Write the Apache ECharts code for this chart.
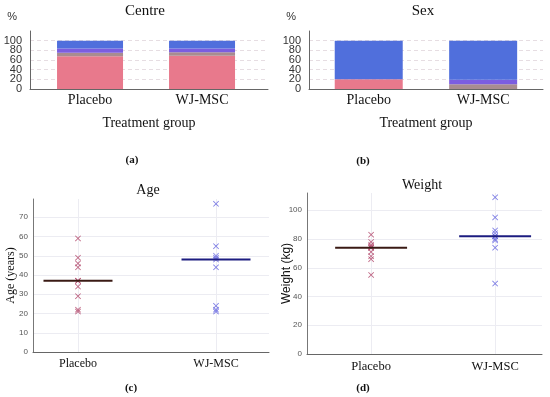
<!DOCTYPE html>
<html><head><meta charset="utf-8">
<script src="https://cdn.jsdelivr.net/npm/echarts@6/dist/echarts.min.js"></script>
<style>html,body{margin:0;padding:0;background:#fff}#c{width:550px;height:397px}</style>
</head><body><div id="c"></div><script>
// ---- data ----
const groups = ['Placebo', 'WJ-MSC'];
// Centre: stacked percentages (4 segments, bottom to top)
const centreSeg1 = [68, 69];
const centreSeg2 = [7, 7];
const centreSeg3 = [9, 8];
const centreSeg4 = [16, 16];
// Sex: stacked percentages
const sexSeg1 = [20, 0];
const sexSeg2 = [0, 10];
const sexSeg3 = [0, 9];
const sexSeg4 = [80, 81];
// Age (years)
const agePlacebo = [59, 49, 46, 44, 37, 37, 34, 29, 22, 21];
const ageWJ = [77, 55, 50, 49, 48, 44, 24, 22, 21];
// Weight (kg)
const weightPlacebo = [83, 78, 76, 75, 74, 74, 71, 68, 66, 55];
const weightWJ = [109, 95, 86, 84, 82, 82, 80, 79, 74, 49];

// ---- helpers ----
function median(a) {
  const s = a.slice().sort((x, y) => x - y);
  const n = s.length;
  return n % 2 ? s[(n - 1) / 2] : (s[n / 2 - 1] + s[n / 2]) / 2;
}
const pos = groups.map((g, i) => i + 1);
const segColors = ['#e8798c', '#a88c90', '#7b5de0', '#506fdc'];
const SERIF = 'Liberation Serif';
const SANS = 'Liberation Sans';
const CROSS = 'path://M0,1 L1,0 L5,4 L9,0 L10,1 L6,5 L10,9 L9,10 L5,6 L1,10 L0,9 L4,5 Z';

function barSeries(segs, idx, stack, bw) {
  return segs.map((seg, k) => ({
    type: 'bar', xAxisIndex: idx, yAxisIndex: idx, stack: stack, barWidth: bw,
    encode: { x: 1, y: 0 },
    data: pos.map((p, i) => [seg[i], p]),
    itemStyle: { color: segColors[k] }, silent: true
  }));
}
function scatterSeries(vals, p, idx, color) {
  return {
    type: 'scatter', xAxisIndex: idx, yAxisIndex: idx, symbol: CROSS, symbolSize: 6,
    data: vals.map(v => [p, v]), itemStyle: { color: color }, silent: true
  };
}
function medianSeries(vals, p, idx, hw, color) {
  const m = median(vals);
  return {
    type: 'line', xAxisIndex: idx, yAxisIndex: idx, symbol: 'none', silent: true,
    data: [[p - hw, m], [p + hw, m]], lineStyle: { color: color, width: 2 }, z: 3
  };
}
function catX(idx, min, max, fs, margin, name, nameGap) {
  return {
    gridIndex: idx, type: 'value', min: min, max: max,
    axisLine: { onZero: false, lineStyle: { color: '#666', width: 1 } },
    axisTick: { show: false, customValues: pos },
    axisLabel: { customValues: pos, formatter: v => groups[Math.round(v) - 1] || '',
      showMinLabel: true, showMaxLabel: true, hideOverlap: false,
      fontFamily: SERIF, fontSize: fs, color: '#111', margin: margin },
    splitLine: { show: name ? false : true, lineStyle: { color: '#ececf2', width: 1 } },
    name: name || '', nameLocation: 'middle', nameGap: nameGap || 0, nameMoveOverlap: false,
    nameTextStyle: { fontFamily: SERIF, fontSize: 14, color: '#111' }
  };
}
// main percentage axis: labels 20..100
function pctY(idx) {
  return {
    gridIndex: idx, type: 'value', min: 0, max: 120, interval: 20,
    axisLine: { show: true, onZero: false, lineStyle: { color: '#666' } },
    axisTick: { show: false },
    axisLabel: { showMinLabel: false, showMaxLabel: false,
      fontFamily: SANS, fontSize: 11, color: '#333', margin: 8 },
    splitLine: { show: true, showMinLine: false, showMaxLine: false,
      lineStyle: { type: [4, 3], color: '#e6dde2' } },
    name: '%', nameLocation: 'end', nameGap: 14, nameMoveOverlap: false,
    nameTextStyle: { fontFamily: SANS, fontSize: 11, color: '#333', align: 'right',
      verticalAlign: 'middle', padding: [0, 13, 0, 0] }
  };
}
// companion axis on the same scale carrying only the "0" label
function pctYZero(idx) {
  return {
    gridIndex: idx, type: 'value', min: 0, max: 120, interval: 120, position: 'left',
    axisLine: { show: false }, axisTick: { show: false }, splitLine: { show: false },
    axisLabel: { showMinLabel: true, showMaxLabel: false,
      fontFamily: SANS, fontSize: 11, color: '#333', margin: 8 }
  };
}
function numY(idx, max, interval, name, nameGap, font) {
  return {
    gridIndex: idx, type: 'value', min: 0, max: max, interval: interval,
    axisLine: { show: true, onZero: false, lineStyle: { color: '#777' } },
    axisTick: { show: false },
    axisLabel: { showMaxLabel: false, showMinLabel: true, fontFamily: SANS, fontSize: 8, color: '#555', margin: 5 },
    splitLine: { show: true, showMinLine: false, showMaxLine: false,
      lineStyle: { color: '#ececf2', width: 1 } },
    name: name, nameLocation: 'middle', nameGap: nameGap, nameMoveOverlap: false,
    nameTextStyle: { fontFamily: font, fontSize: 12, color: '#111' }
  };
}
function txt(t, x, y, size, bold) {
  return { type: 'text', x: x, y: y, silent: true,
    style: { text: t, align: 'center', verticalAlign: 'middle',
      font: (bold ? 'bold ' : '') + size + 'px "' + SERIF + '"', fill: '#111' } };
}

const chart = echarts.init(document.getElementById('c'), null, { renderer: 'canvas' });
chart.setOption({
  animation: false,
  backgroundColor: '#ffffff',
  grid: [
    { left: 30, top: 31, width: 238, height: 58 },
    { left: 309, top: 31, width: 234, height: 58 },
    { left: 33, top: 199, width: 236, height: 153 },
    { left: 307, top: 193, width: 235, height: 161 }
  ],
  xAxis: [
    catX(0, 0.464, 2.589, 14, 4, 'Treatment group', 27),
    catX(1, 0.478, 2.523, 14, 4, 'Treatment group', 27),
    catX(2, 0.674, 2.384, 12, 6),
    catX(3, 0.483, 2.378, 12.5, 6)
  ],
  yAxis: [
    pctY(0), pctY(1),
    numY(2, 79.5, 10, 'Age (years)', 16, SERIF),
    numY(3, 112, 20, 'Weight (kg)', 14, SANS),
    pctYZero(0), pctYZero(1)
  ],
  series: [
    ...barSeries([centreSeg1, centreSeg2, centreSeg3, centreSeg4], 0, 'centre', 66),
    ...barSeries([sexSeg1, sexSeg2, sexSeg3, sexSeg4], 1, 'sex', 68),
    scatterSeries(agePlacebo, 1, 2, '#b04468'),
    scatterSeries(ageWJ, 2, 2, '#6262de'),
    medianSeries(agePlacebo, 1, 2, 0.25, '#3a1a14'),
    medianSeries(ageWJ, 2, 2, 0.25, '#1c1c80'),
    scatterSeries(weightPlacebo, 1, 3, '#b04468'),
    scatterSeries(weightWJ, 2, 3, '#6262de'),
    medianSeries(weightPlacebo, 1, 3, 0.29, '#3a1a14'),
    medianSeries(weightWJ, 2, 3, 0.29, '#1c1c80')
  ],
  graphic: [
    txt('Centre', 145, 11, 15),
    txt('Sex', 423, 11, 15),
    txt('(a)', 132, 160, 11, true),
    txt('(b)', 363, 161, 11, true),
    txt('Age', 148, 190, 14),
    txt('Weight', 422, 185, 14),
    txt('(c)', 131, 388, 11, true),
    txt('(d)', 363, 388, 11, true)
  ]
});
</script></body></html>
